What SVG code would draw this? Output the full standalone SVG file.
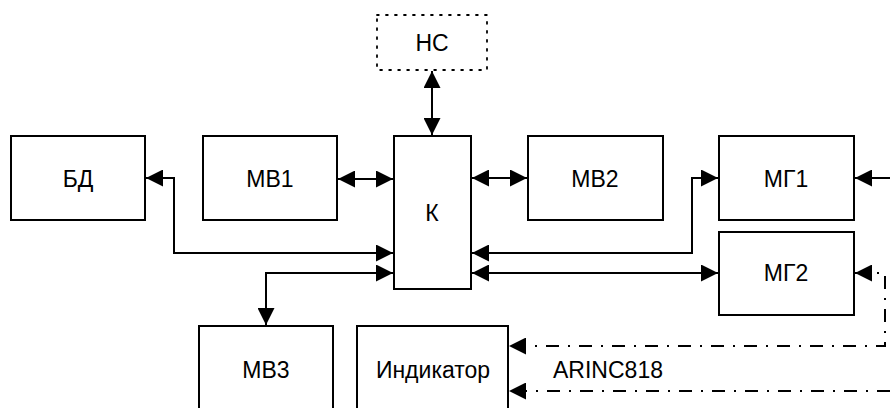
<svg xmlns="http://www.w3.org/2000/svg" width="890" height="408" viewBox="0 0 890 408">
<style>
.box{fill:#fff;stroke:#000;stroke-width:2}
.dot{fill:none;stroke:#000;stroke-width:1.8;stroke-dasharray:1.8 7.2;stroke-linecap:round}
.t{font-family:"Liberation Sans",Arial,sans-serif;font-size:23px;fill:#000;text-anchor:middle}
.ln{fill:none;stroke:#000;stroke-width:2}
.dd{fill:none;stroke:#000;stroke-width:2;stroke-dasharray:13 9 2 9}
</style>
<defs>
<marker id="ah" markerUnits="userSpaceOnUse" markerWidth="17" markerHeight="17" refX="17" refY="8.5" orient="auto-start-reverse" viewBox="0 0 17 17">
<path d="M0,0 L17,8.5 L0,17 z" fill="#000"/>
</marker>
</defs>
<g id="connectors">
<path class="ln" d="M432,71 L432,135" marker-start="url(#ah)" marker-end="url(#ah)"/>
<path class="ln" d="M338,179 L393,179" marker-start="url(#ah)" marker-end="url(#ah)"/>
<path class="ln" d="M472,178 L527,178" marker-start="url(#ah)" marker-end="url(#ah)"/>
<path class="ln" d="M146,178 L174,178 L174,253 L393,253" marker-start="url(#ah)" marker-end="url(#ah)"/>
<path class="ln" d="M266,325 L266,273 L393,273" marker-start="url(#ah)" marker-end="url(#ah)"/>
<path class="ln" d="M472,253 L692,253 L692,178 L718,178" marker-start="url(#ah)" marker-end="url(#ah)"/>
<path class="ln" d="M472,273 L718,273" marker-start="url(#ah)" marker-end="url(#ah)"/>
<path class="ln" d="M890,178 L855,178" marker-end="url(#ah)"/>
<path class="dd" d="M855,273 L885,273 L885,346 L509,346" marker-start="url(#ah)" marker-end="url(#ah)"/>
<path class="dd" d="M890,391 L509,391" marker-end="url(#ah)"/>
</g>
<g id="NS"><rect class="dot" x="377" y="15" width="110" height="55"/><text class="t" x="432" y="51">НС</text></g>
<g id="K"><rect class="box" x="394" y="136" width="77" height="153"/><text class="t" x="432" y="221">К</text></g>
<g id="BD"><rect class="box" x="11" y="136" width="134" height="84"/><text class="t" x="78" y="187">БД</text></g>
<g id="MV1"><rect class="box" x="203" y="136" width="134" height="84"/><text class="t" x="270" y="187">МВ1</text></g>
<g id="MV2"><rect class="box" x="528" y="136" width="135" height="84"/><text class="t" x="595" y="187">МВ2</text></g>
<g id="MG1"><rect class="box" x="719" y="136" width="135" height="84"/><text class="t" x="786" y="187">МГ1</text></g>
<g id="MG2"><rect class="box" x="719" y="232" width="135" height="83"/><text class="t" x="786" y="281">МГ2</text></g>
<g id="MV3"><rect class="box" x="199" y="326" width="134" height="100"/><text class="t" x="266" y="378">МВ3</text></g>
<g id="Indicator"><rect class="box" x="357" y="326" width="151" height="100"/><text class="t" x="433" y="378">Индикатор</text></g>
<text class="t" x="608" y="378">ARINC818</text>
</svg>
